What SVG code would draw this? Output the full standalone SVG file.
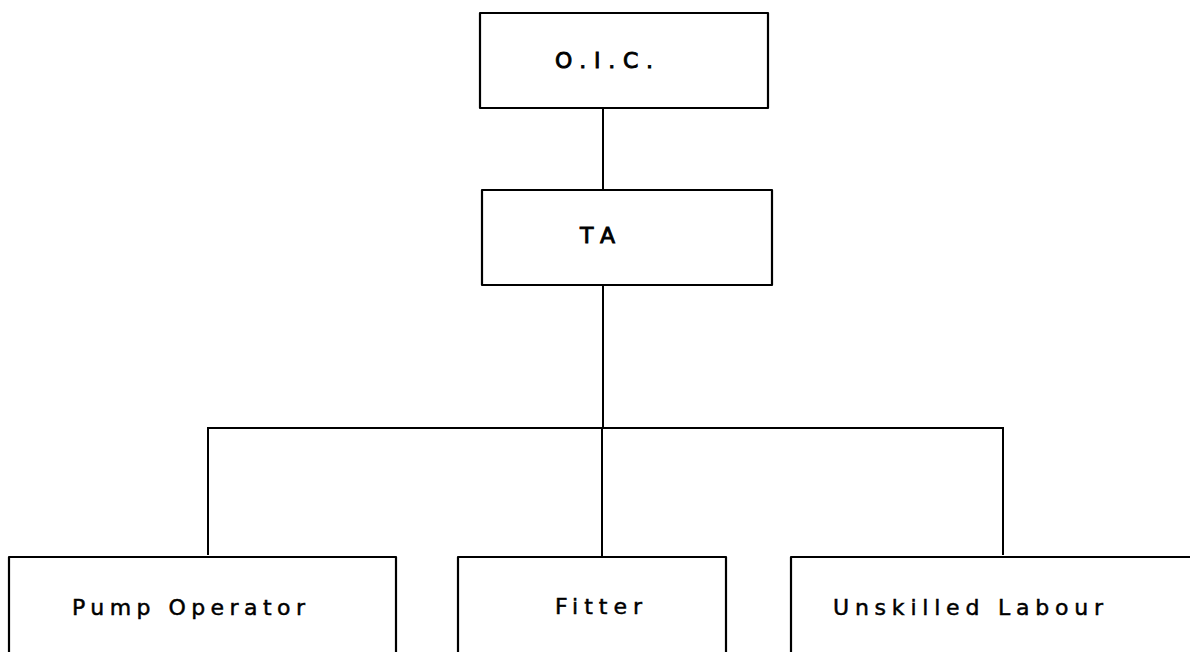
<svg xmlns="http://www.w3.org/2000/svg" width="1190" height="652" viewBox="0 0 1190 652">
<style>
.box{fill:none;stroke:#000;stroke-width:2.2;stroke-linejoin:round}
.con{fill:none;stroke:#000;stroke-width:2}
.lbl{font-family:"DejaVu Sans","Liberation Sans",sans-serif;font-size:22px;fill:#000;stroke:#000;stroke-width:0.5}
.hd{stroke-width:0.9}
</style>
<rect width="1190" height="652" fill="#fff"/>
<g id="connectors">
<line class="con" x1="603" y1="108" x2="603" y2="190"/>
<line class="con" x1="603" y1="285" x2="603" y2="428"/>
<polyline class="con" points="208,555 208,428 1003,428 1003,555"/>
<line class="con" x1="602" y1="428" x2="602" y2="556"/>
</g>
<g id="oic">
<rect class="box" x="480" y="13" width="288" height="95"/>
<text class="lbl hd" x="555" y="68" textLength="98" lengthAdjust="spacing">O.I.C.</text>
</g>
<g id="ta">
<rect class="box" x="482" y="190" width="290" height="95"/>
<text class="lbl hd" x="580" y="243" textLength="35" lengthAdjust="spacing">TA</text>
</g>
<g id="pump">
<polyline class="box" points="9,652 9,557 396,557 396,652"/>
<text class="lbl" x="72" y="615" textLength="233" lengthAdjust="spacing">Pump Operator</text>
</g>
<g id="fitter">
<polyline class="box" points="458,652 458,557 726,557 726,652"/>
<text class="lbl" x="555" y="614" textLength="87" lengthAdjust="spacing">Fitter</text>
</g>
<g id="unskilled">
<polyline class="box" points="791,652 791,557 1190,557"/>
<text class="lbl" x="833" y="615" textLength="270" lengthAdjust="spacing">Unskilled Labour</text>
</g>
</svg>
